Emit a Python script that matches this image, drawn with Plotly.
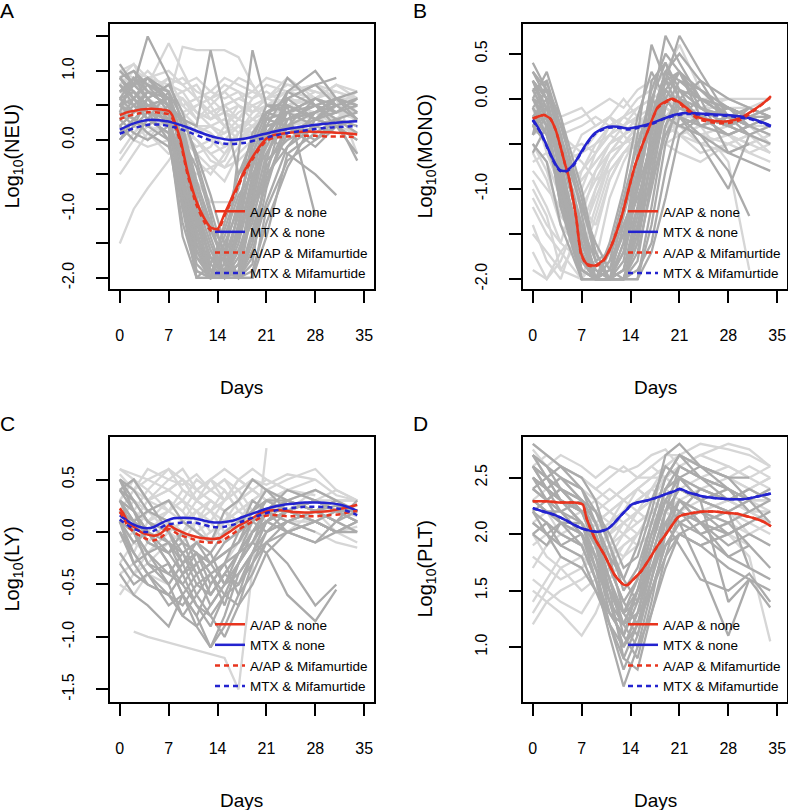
import plotly.graph_objects as go

W, H = 788, 810
N = None

# ---------------- shared axis data ----------------
DAY_GRID = [0, 2, 4, 7, 9, 11, 13, 15, 17, 19, 21, 24, 28, 31, 34]
X_TICKS = [0, 7, 14, 21, 28, 35]
X_TICK_LABELS = ["0", "7", "14", "21", "28", "35"]
GROUPS = ["A/AP & none", "MTX & none", "A/AP & Mifamurtide", "MTX & Mifamurtide"]

# ---------------- Panel A: NEU ----------------
NEU_MTX_PATIENTS = [
    [0.9, 0.8, 1.0, 0.7, 0.6, 0.4, 0.3, 0.5, 0.6, 0.7, 0.6, 0.5, 0.7, 0.6, 0.5],
    [0.5, 0.6, 0.4, 0.5, 0.3, 0.2, 0.0, -0.2, 0.1, 0.3, 0.4, 0.5, 0.4, 0.6, 0.6],
    [0.2, 0.4, 0.6, 0.4, 0.2, 0.0, -0.3, -0.4, -0.1, 0.2, 0.3, 0.2, 0.4, 0.3, 0.5],
    [0.7, 0.9, 0.8, 1.4, 1.0, 0.6, 0.4, 0.2, 0.5, 0.4, 0.6, 0.8, 0.7, N, N],
    [1.0, 0.9, 0.7, 0.6, 1.35, 1.3, 1.3, 1.3, 1.2, 0.8, 0.5, 0.5, 0.6, 0.7, 0.6],
    [-1.5, -1.0, -0.7, -0.3, 0.0, -0.2, -0.4, -0.3, 0.1, 0.2, 0.3, 0.2, 0.4, 0.2, N],
    [0.0, 0.2, 0.1, -0.2, -0.2, -0.6, -0.9, -0.9, -0.9, -0.9, -0.1, 0.2, 0.3, 0.4, 0.3],
    [0.6, 0.5, 0.7, 0.6, 0.4, 0.5, 0.6, 0.4, 0.3, 0.5, 0.6, 0.7, 0.8, 0.7, 0.6],
    [0.3, 0.1, 0.3, 0.2, 0.1, -0.1, 0.0, 0.1, 0.2, 0.0, 0.2, 0.3, 0.5, 0.4, 0.4],
    [0.8, 1.0, 0.9, 0.6, 0.7, 0.8, 0.5, 0.7, 0.9, 0.8, 0.5, 0.4, 0.3, 0.5, 0.7],
    [-0.5, -0.2, 0.1, 0.3, 0.2, 0.0, -0.2, -0.4, -0.3, -0.1, 0.1, 0.4, 0.3, 0.2, 0.1],
    [0.4, 0.7, 0.5, 0.3, 0.4, 0.2, 0.2, 0.3, 0.1, 0.4, 0.5, 0.4, 0.6, 0.5, 0.3],
    [1.0, 0.8, 0.9, 0.8, 0.7, 0.4, 0.2, 0.1, 0.3, 0.6, 0.8, 0.7, 0.6, 0.8, 0.7],
    [0.1, 0.3, 0.0, 0.4, 0.6, 0.3, 0.5, 0.2, 0.0, 0.1, 0.4, 0.6, 0.5, 0.3, 0.2],
    [0.6, 0.3, 0.2, 0.1, -0.3, -0.5, -0.4, -0.6, -0.2, 0.0, 0.3, 0.5, N, N, N],
    [0.9, 1.1, 0.7, 0.9, 0.8, 0.9, 0.7, 0.6, 0.7, 0.4, 0.6, 0.9, 0.6, 0.5, 0.4],
    [-0.3, 0.0, -0.1, 0.0, -0.2, -0.3, -0.5, -0.2, 0.0, 0.2, 0.0, 0.3, 0.2, 0.5, 0.4],
    [0.5, 0.4, 0.6, 0.9, 0.5, 0.6, 0.3, 0.4, 0.5, 0.3, 0.2, 0.3, 0.4, 0.6, -0.2],
    [0.7, 0.6, 0.8, 0.7, 0.5, 0.6, 0.4, 0.5, 0.6, 0.5, 0.4, 0.6, 0.5, 0.6, 0.5],
    [0.4, 0.5, 0.3, 0.2, 0.3, 0.1, 0.2, 0.0, 0.2, 0.3, 0.2, 0.3, 0.5, 0.4, 0.3],
    [0.8, 0.7, 0.6, 0.8, 0.9, 0.7, 0.6, 0.8, 0.7, 0.6, 0.7, 0.5, 0.6, 0.8, 0.6],
    [0.2, 0.0, 0.2, 0.4, 0.1, -0.2, -0.1, 0.2, 0.4, 0.5, 0.3, 0.4, 0.2, 0.3, 0.4],
    [0.5, 0.8, 0.7, 0.5, 0.6, 0.4, 0.3, 0.4, 0.2, 0.1, 0.3, 0.2, 0.3, 0.4, 0.5],
    [0.9, 0.7, 0.5, 0.4, 0.3, 0.5, 0.6, 0.7, 0.5, 0.4, 0.5, 0.7, 0.8, 0.6, 0.4],
    [-0.2, 0.1, 0.3, 0.1, 0.0, 0.2, 0.1, -0.1, 0.0, 0.2, 0.1, 0.0, 0.3, 0.2, 0.3],
    [0.6, 0.4, 0.5, 0.3, 0.1, 0.0, -0.2, -0.1, 0.1, 0.3, 0.5, 0.6, 0.5, 0.3, 0.6],
    [1.0, 1.1, 0.9, 1.0, 0.8, 0.6, 0.7, 0.9, 0.8, 0.7, 0.9, 0.8, 0.7, 0.6, N],
    [0.3, 0.5, 0.4, 0.6, 0.5, 0.3, 0.4, 0.5, 0.3, 0.2, 0.4, 0.3, 0.1, 0.2, 0.0],
]
NEU_AAP_PATIENTS = [
    [0.6, 0.7, 0.5, 0.4, -0.6, -1.6, -2.0, -2.0, -1.2, -0.3, 0.2, 0.3, 0.4, N, N],
    [0.9, 1.0, 0.8, 0.6, -0.3, -1.2, -1.9, -2.0, -1.8, -0.8, 0.1, 0.5, 0.3, 0.4, N],
    [0.3, 0.5, 0.4, 0.2, -0.8, -1.8, -2.0, -1.6, -0.9, -0.2, 0.3, 0.2, 0.1, 0.3, 0.2],
    [0.5, 0.8, 1.5, 0.9, 0.2, -0.9, -1.5, -2.0, -2.0, -1.0, -0.2, 0.4, 0.6, N, N],
    [0.1, 0.3, 0.2, 0.5, -0.2, -1.1, -1.7, -1.9, -1.4, -0.6, 0.0, 0.2, -0.1, 0.2, -0.2],
    [0.8, 0.6, 0.9, 0.7, 0.0, -0.7, -1.4, -2.0, -2.0, -1.5, -0.5, 0.6, 0.8, 0.5, N],
    [0.4, 0.2, 0.6, 0.3, -1.0, -2.0, -2.0, -2.0, -1.0, -0.4, 0.3, 0.9, 0.5, 0.3, 0.4],
    [0.7, 0.9, 0.7, 0.5, 0.3, 0.2, 1.3, 0.4, -0.5, -0.2, 0.3, 0.4, 0.2, N, N],
    [0.2, 0.0, 0.3, 0.1, -0.5, -1.4, -2.0, -2.0, -2.0, -1.3, -0.6, 0.1, 0.3, 0.2, 0.0],
    [1.0, 0.8, 0.6, 0.8, 0.4, -0.3, -1.0, -1.7, -2.0, -1.6, -0.9, -0.1, 0.4, 0.6, 0.5],
    [0.6, 0.4, 0.7, 0.5, -0.1, -1.3, -2.0, -1.8, -0.2, 1.3, 0.5, 0.5, 0.3, 0.2, N],
    [0.3, 0.6, 0.4, 0.3, -0.4, -1.0, -1.6, -2.0, -1.7, -0.9, 0.0, 0.6, 0.8, 0.9, N],
    [0.5, 0.3, 0.5, 0.6, 0.0, -0.8, -1.9, -2.0, -1.4, -0.5, -0.1, 0.5, -1.1, N, N],
    [0.9, 0.6, 0.8, 0.4, -0.7, -1.7, -2.0, -2.0, -1.5, -0.7, 0.2, 0.7, 0.5, 0.6, 0.7],
    [0.0, 0.2, 0.4, 0.3, 0.1, -0.6, -1.2, -1.6, -2.0, -2.0, -1.0, -0.3, 0.0, 0.3, -0.3],
    [0.7, 0.8, 0.9, 0.6, -0.2, -1.5, -2.0, -1.9, -1.0, 0.0, 0.5, 0.4, 0.6, 0.4, 0.6],
    [0.4, 0.9, 0.6, 0.2, -0.9, -2.0, -1.8, -1.3, -0.7, 0.1, 0.4, 0.3, 0.5, N, N],
    [0.8, 0.5, 0.3, 0.7, 0.3, -0.2, -0.8, -1.5, -2.0, -1.8, -0.3, 0.7, 1.0, 0.6, 0.3],
    [N, 1.0, 0.7, 0.5, 0.0, -1.0, -1.8, -2.0, -1.6, -1.0, -0.4, 0.2, 0.4, 0.5, 0.6],
    [0.6, 0.7, 0.4, 0.0, -1.2, -1.9, -2.0, -1.2, -0.5, 0.0, 0.1, -0.2, -0.5, -0.8, N],
    [0.5, 0.6, 0.3, 0.1, -1.4, -2.0, -2.0, -2.0, -1.9, -0.6, 0.4, 0.5, 0.3, 0.4, N],
    [0.2, 0.4, 0.5, 0.6, -0.1, -0.9, -1.3, -1.8, -2.0, -2.0, -1.4, -0.2, 0.1, N, N],
    [0.7, 0.8, 0.6, 0.2, -0.5, -1.7, -1.9, -1.7, -1.1, -0.4, 0.2, 0.3, 0.5, 0.4, 0.5],
    [0.4, 0.3, 0.2, 0.0, -1.0, -1.5, -2.0, -2.0, -1.6, -1.2, -0.3, 0.0, 0.2, 0.1, N],
    [0.9, 0.7, 0.5, 0.4, 0.0, -0.4, -1.1, -2.0, -2.0, -1.7, -0.7, 0.3, 0.4, 0.6, 0.5],
    [0.6, 0.9, 0.8, 0.7, -0.4, -1.6, -2.0, -2.0, -2.0, -0.9, 0.1, 0.2, 0.0, 0.2, 0.3],
    [0.3, 0.1, 0.0, 0.2, -0.6, -1.4, -1.8, -1.4, -0.8, -0.5, -0.2, 0.3, 0.4, N, N],
    [1.1, 0.8, 0.9, 0.5, -0.2, -1.0, -1.6, -1.9, -2.0, -1.4, -0.6, 0.2, 0.6, 0.5, 0.3],
    [0.5, 0.4, 0.6, 0.3, -0.9, -1.9, -2.0, -1.5, -1.0, -0.1, 0.4, 0.6, 0.3, 0.5, N],
    [0.0, 0.3, 0.1, -0.1, -0.7, -1.2, -1.7, -2.0, -1.8, -1.1, -0.5, -0.1, 0.2, 0.3, 0.1],
    [0.8, 0.6, 0.4, 0.3, -0.3, -1.1, -2.0, -2.0, -1.3, -0.3, 0.1, 0.4, 0.5, 0.2, N],
    [0.6, 0.5, 0.7, 0.6, 0.2, -0.6, -1.3, -1.7, -2.0, -1.9, -1.2, -0.4, 0.3, 0.6, 0.4],
]
NEU_AAP_DAYS = [0, 1, 2, 3, 4, 5, 6, 7, 7.5, 8, 8.7, 9.7, 10.9, 12, 13, 14, 15, 16, 17,
                18, 19, 20, 21, 22, 24, 26, 28, 30, 32, 34]
NEU_AAP_NONE = [0.36, 0.40, 0.42, 0.44, 0.45, 0.45, 0.44, 0.42, 0.36, 0.22, 0.0, -0.46,
                -0.87, -1.12, -1.27, -1.29, -1.07, -0.85, -0.63, -0.42, -0.25, -0.10,
                0.02, 0.07, 0.10, 0.12, 0.12, 0.11, 0.10, 0.08]
NEU_AAP_MIF = [0.30, 0.34, 0.37, 0.39, 0.40, 0.40, 0.39, 0.37, 0.32, 0.18, -0.04, -0.50,
               -0.92, -1.17, -1.31, -1.33, -1.10, -0.88, -0.66, -0.45, -0.28, -0.13,
               -0.01, 0.03, 0.05, 0.06, 0.06, 0.05, 0.05, 0.04]
NEU_MTX_DAYS = [0, 2, 4, 6, 8, 10, 12, 14, 16, 18, 20, 22, 24, 26, 28, 30, 32, 34]
NEU_MTX_NONE = [0.15, 0.24, 0.29, 0.28, 0.24, 0.17, 0.09, 0.03, 0.0, 0.02, 0.07, 0.12,
                0.16, 0.19, 0.22, 0.24, 0.26, 0.27]
NEU_MTX_MIF = [0.09, 0.17, 0.22, 0.22, 0.18, 0.11, 0.03, -0.04, -0.06, -0.04, 0.01, 0.06,
               0.10, 0.13, 0.16, 0.18, 0.19, 0.20]

# ---------------- Panel B: MONO ----------------
MONO_MTX_PATIENTS = [
    [-0.3, -0.5, -0.9, -0.4, -0.3, -0.2, -0.4, -0.3, -0.2, -0.1, -0.2, -0.1, -0.2, -0.3, -0.2],
    [-0.9, -1.2, -1.6, -0.8, -0.5, -0.3, -0.2, -0.3, -0.1, 0.0, -0.1, -0.2, -0.3, -0.2, -0.1],
    [0.1, -0.3, -0.6, -0.5, -0.6, -0.4, -0.3, -0.4, -0.5, -0.3, -0.2, -0.3, -0.4, -0.5, -0.4],
    [-1.4, -1.8, -2.0, -1.3, -0.8, -0.5, -0.4, -0.2, -0.3, -0.2, 0.0, -0.1, -0.2, -0.3, -0.3],
    [-0.5, -0.7, -1.1, -1.0, -0.6, -0.4, -0.5, -0.3, -0.1, 0.1, -0.1, -0.3, -0.2, -0.4, -0.6],
    [0.3, 0.1, -0.3, -0.2, -0.1, 0.0, -0.1, 0.1, 0.2, 0.0, 0.1, -0.1, 0.0, -0.1, -0.2],
    [-1.0, -1.3, -1.9, -2.0, -1.5, -0.9, -0.6, -0.5, -0.3, -0.2, -0.3, -0.4, -0.3, -0.2, -0.3],
    [-0.2, -0.4, -0.5, -0.7, -0.9, -0.6, -0.4, -0.3, -0.4, -0.2, -0.3, -0.5, -0.6, -0.5, -0.4],
    [-0.6, -0.9, -1.4, -1.7, -1.2, -0.7, -0.5, -0.4, -0.3, -0.4, -0.2, -0.2, -0.1, -0.1, 0.0],
    [0.0, -0.2, -0.4, -0.3, -0.2, -0.3, -0.2, 0.0, 0.1, 0.3, 0.6, 0.1, -0.1, -0.2, -0.1],
    [-1.7, -2.0, -1.8, -1.2, -0.9, -0.8, -0.6, -0.5, -0.7, -0.5, -0.4, -0.6, -0.5, -0.4, -0.5],
    [-0.4, -0.3, -0.7, -0.6, -0.4, -0.2, -0.3, -0.1, 0.0, -0.1, -0.2, -0.3, -0.7, -1.9, N],
    [-0.8, -1.0, -1.2, -0.9, -0.7, -0.5, -0.4, -0.6, -0.4, -0.3, -0.4, -0.5, -0.4, -0.6, -0.5],
    [0.2, 0.0, -0.2, -0.1, -0.3, -0.2, 0.0, -0.2, -0.3, -0.1, -0.2, 0.0, 0.0, 0.0, 0.0],
    [-1.2, -1.5, -1.7, -2.0, -1.8, -1.1, -0.7, -0.4, -0.3, -0.5, -0.6, -0.7, -0.5, -0.6, -0.7],
    [-0.1, -0.6, -1.0, -0.8, -0.6, -0.3, -0.3, -0.2, -0.4, -0.2, -0.4, -0.3, -0.2, -0.2, -0.3],
    [-0.5, -0.8, -1.3, -1.6, -1.0, -0.6, -0.4, -0.3, -0.2, -0.1, -0.2, -0.3, -0.2, -0.3, -0.4],
    [-1.5, -1.7, -1.9, -1.5, -1.1, -0.7, -0.5, -0.4, -0.5, -0.3, -0.3, -0.4, -0.5, -0.4, -0.3],
    [-0.2, -0.3, -0.6, -0.9, -0.7, -0.5, -0.3, -0.2, -0.1, -0.2, -0.1, -0.2, -0.1, -0.2, -0.2],
    [0.0, -0.4, -0.8, -1.2, -1.4, -0.9, -0.6, -0.5, -0.4, -0.3, -0.4, -0.3, -0.4, -0.5, -0.6],
    [-1.1, -1.4, -1.6, -1.8, -1.3, -0.8, -0.6, -0.4, -0.3, -0.2, -0.1, -0.2, -0.3, -0.2, -0.1],
    [-0.7, -0.6, -0.9, -1.1, -0.8, -0.6, -0.5, -0.3, -0.2, -0.4, -0.3, -0.2, -0.4, -0.3, -0.5],
    [0.1, -0.1, -0.4, -0.6, -0.5, -0.4, -0.2, -0.1, 0.0, 0.1, 0.0, -0.1, -0.1, -0.2, -0.1],
    [-1.9, -2.0, -1.7, -1.4, -1.0, -0.7, -0.5, -0.4, -0.3, -0.2, -0.3, -0.4, -0.3, -0.2, N],
]
MONO_AAP_PATIENTS = [
    [0.4, 0.1, -0.5, -1.4, -2.0, -2.0, -2.0, -1.6, -0.6, 0.1, -0.1, -0.2, -0.3, N, N],
    [-0.2, -0.1, -0.8, -1.9, -2.0, -2.0, -1.7, -0.9, 0.2, 0.4, 0.0, -0.3, -0.2, -0.4, N],
    [0.0, -0.3, -1.0, -2.0, -2.0, -1.8, -1.2, -0.4, 0.6, 0.2, -0.1, -0.2, -0.1, -0.3, -0.2],
    [-0.4, 0.2, -0.4, -1.6, -2.0, -2.0, -2.0, -2.0, -1.2, -0.3, 0.1, 0.0, -0.2, N, N],
    [0.2, 0.0, -0.7, -1.8, -2.0, -1.9, -1.5, -0.8, -0.1, 0.7, 0.4, 0.0, -0.1, -0.2, -0.3],
    [-0.6, -0.3, -1.2, -2.0, -2.0, -2.0, -1.4, -1.0, -0.5, 0.0, -0.2, -0.4, -0.6, -0.5, N],
    [0.1, 0.2, -0.3, -1.1, -1.8, -2.0, -2.0, -1.5, -0.3, 0.3, 0.5, 0.2, -0.3, -0.4, -0.5],
    [-0.1, -0.4, -0.9, -1.7, -2.0, -1.6, -1.0, -0.2, 0.3, 0.0, -0.2, -0.5, -1.0, -0.4, N],
    [0.3, 0.0, -0.6, -1.5, -1.9, -2.0, -2.0, -1.8, -0.9, -0.1, 0.2, 0.1, -0.1, -0.2, N],
    [-0.3, -0.2, -1.1, -2.0, -2.0, -2.0, -1.6, -0.6, 0.1, 0.5, 0.3, -0.1, -0.3, -0.2, -0.1],
    [0.0, 0.3, -0.2, -1.3, -2.0, -2.0, -1.9, -1.2, -0.4, 0.2, 0.7, 0.3, -0.2, -0.3, N],
    [-0.5, -0.7, -1.4, -2.0, -2.0, -1.7, -1.1, -0.5, 0.0, -0.2, -0.3, -0.4, -0.8, -1.3, N],
    [0.2, -0.1, -0.5, -1.2, -1.7, -2.0, -2.0, -2.0, -1.4, -0.5, 0.0, 0.2, 0.0, -0.1, -0.2],
    [-0.2, 0.0, -0.9, -1.8, -2.0, -2.0, -1.8, -1.0, 0.0, 0.4, 0.1, -0.3, -0.4, -0.3, N],
    [0.1, -0.2, -0.8, -1.6, -2.0, -1.9, -1.3, -0.7, -0.2, 0.3, 0.2, 0.0, -0.6, -0.7, -0.8],
    [-0.3, -0.5, -1.0, -1.9, -2.0, -2.0, -2.0, -1.4, -0.7, 0.1, -0.1, -0.2, -0.1, N, N],
    [0.0, -0.2, -0.7, -1.7, -2.0, -2.0, -2.0, -1.7, -1.0, -0.3, 0.0, -0.1, -0.2, -0.3, N],
    [-0.3, -0.1, -0.6, -1.5, -1.9, -2.0, -1.9, -1.3, -0.5, 0.1, 0.3, -0.2, -0.3, N, N],
    [0.2, 0.0, -0.9, -2.0, -2.0, -2.0, -2.0, -1.9, -1.6, -0.8, -0.2, 0.0, -0.1, -0.2, -0.3],
    [-0.1, -0.3, -1.2, -1.9, -2.0, -1.8, -1.5, -1.1, -0.6, -0.2, -0.3, -0.2, -0.4, -0.3, N],
    [0.1, 0.1, -0.4, -1.2, -1.6, -1.9, -2.0, -2.0, -1.7, -1.1, -0.4, -0.2, -0.1, -0.2, -0.2],
    [-0.4, -0.2, -0.8, -1.6, -2.0, -2.0, -1.6, -0.8, -0.3, 0.2, 0.1, -0.1, -0.3, -0.2, N],
    [0.3, 0.1, -0.2, -1.0, -1.7, -2.0, -2.0, -1.6, -0.8, 0.0, 0.3, 0.1, -0.2, -0.3, -0.4],
    [-0.2, -0.4, -1.0, -1.8, -2.0, -2.0, -1.9, -1.4, -0.9, -0.4, -0.1, -0.2, -0.3, -0.1, N],
    [0.0, -0.1, -0.6, -1.4, -1.8, -1.7, -1.4, -1.0, -0.2, 0.3, 0.0, -0.2, -0.3, -0.4, -0.3],
    [-0.1, 0.1, -0.5, -1.5, -2.0, -2.0, -2.0, -1.5, -0.6, 0.0, -0.2, -0.3, -0.2, N, N],
    [0.2, -0.2, -1.1, -1.9, -2.0, -2.0, -1.7, -1.2, -0.4, 0.2, 0.3, 0.0, -0.2, -0.1, -0.2],
]
MONO_AAP_DAYS = [0, 1, 1.6, 2.5, 3.3, 4.1, 4.6, 5.1, 6.2, 6.9, 7.7, 8.9, 10.1, 11.2, 12.7,
                 14.6, 16.5, 17.9, 19.0, 20.0, 21.0, 22.0, 23.6, 25.5, 27.9, 29.8, 31.7,
                 33.0, 34.1]
MONO_AAP_NONE = [-0.22, -0.19, -0.18, -0.22, -0.35, -0.57, -0.72, -0.85, -1.31, -1.71,
                 -1.83, -1.85, -1.79, -1.64, -1.31, -0.75, -0.35, -0.09, -0.03, 0.0, -0.04,
                 -0.10, -0.20, -0.24, -0.25, -0.21, -0.12, -0.05, 0.03]
MONO_AAP_MIF = [-0.22, -0.19, -0.18, -0.22, -0.35, -0.57, -0.72, -0.85, -1.31, -1.72,
                -1.84, -1.86, -1.80, -1.64, -1.31, -0.75, -0.35, -0.10, -0.04, -0.01,
                -0.05, -0.12, -0.22, -0.26, -0.27, -0.23, -0.13, -0.05, 0.02]
MONO_MTX_DAYS = [0, 0.6, 1.2, 2.0, 2.7, 3.3, 3.9, 4.6, 5.3, 6.0, 6.7, 7.4, 8.2, 8.9, 9.8,
                 10.8, 12.2, 13.6, 15.1, 17.0, 18.9, 20.2, 21.4, 23.3, 25.5, 27.9, 30.8,
                 32.5, 34.1]
MONO_MTX_NONE = [-0.23, -0.30, -0.38, -0.52, -0.64, -0.73, -0.79, -0.80, -0.77, -0.71,
                 -0.62, -0.53, -0.44, -0.38, -0.34, -0.31, -0.31, -0.33, -0.31, -0.27,
                 -0.215, -0.18, -0.16, -0.16, -0.17, -0.18, -0.21, -0.25, -0.30]
MONO_MTX_MIF = [-0.24, -0.31, -0.39, -0.53, -0.65, -0.74, -0.80, -0.81, -0.78, -0.72,
                -0.63, -0.54, -0.45, -0.39, -0.35, -0.32, -0.32, -0.34, -0.32, -0.28,
                -0.22, -0.19, -0.17, -0.17, -0.18, -0.19, -0.22, -0.26, -0.31]

# ---------------- Panel C: LY ----------------
LY_MTX_PATIENTS = [
    [0.5, 0.4, 0.5, 0.4, 0.5, 0.3, 0.4, 0.5, 0.3, 0.4, 0.3, 0.4, 0.3, 0.3, 0.2],
    [0.2, 0.1, 0.3, 0.2, 0.1, 0.2, 0.0, 0.1, 0.2, 0.3, 0.2, 0.3, 0.2, 0.3, 0.3],
    [-0.3, -0.1, 0.0, 0.2, 0.3, 0.2, 0.1, 0.3, 0.4, 0.2, 0.3, 0.2, 0.4, 0.3, N],
    [0.6, 0.5, 0.3, 0.5, 0.6, 0.4, 0.5, 0.4, 0.2, 0.3, 0.4, 0.5, 0.6, 0.4, 0.3],
    [-0.6, -0.4, -0.3, -0.1, 0.0, 0.1, -0.1, 0.0, 0.1, 0.2, 0.1, 0.2, 0.3, 0.2, 0.2],
    [0.4, 0.3, 0.2, 0.3, 0.2, 0.4, 0.3, 0.2, 0.3, 0.1, 0.2, 0.1, 0.2, 0.0, -0.1],
    [N, -0.95, -1.0, N, N, N, N, -1.2, -1.5, N, 0.8, N, N, N, N],
    [0.1, 0.3, 0.2, 0.0, 0.1, 0.3, 0.2, 0.4, 0.2, 0.3, 0.4, 0.3, 0.2, 0.1, 0.0],
    [0.5, 0.2, 0.4, 0.6, 0.4, 0.3, 0.5, 0.3, 0.5, 0.6, 0.5, 0.4, 0.5, N, N],
    [-0.2, -0.4, -0.2, 0.0, -0.1, 0.1, 0.2, 0.0, 0.1, 0.0, 0.2, 0.1, 0.0, -0.1, -0.15],
    [0.3, 0.5, 0.4, 0.2, 0.3, 0.1, 0.3, 0.2, 0.0, 0.2, 0.3, 0.2, 0.3, 0.4, 0.3],
    [0.0, -0.2, 0.1, 0.3, 0.2, 0.0, 0.1, -0.1, 0.0, 0.2, 0.1, 0.0, 0.1, 0.2, 0.1],
    [0.55, 0.4, 0.6, 0.5, 0.45, 0.55, 0.4, 0.5, 0.4, 0.5, 0.45, 0.55, 0.5, 0.35, 0.3],
    [-0.5, -0.6, -0.4, -0.5, -0.3, -0.2, -0.4, -0.3, -0.1, 0.0, 0.1, 0.0, 0.2, 0.1, N],
    [0.2, 0.4, 0.3, 0.4, 0.5, 0.3, 0.2, 0.3, 0.5, 0.4, 0.3, 0.4, 0.3, 0.2, 0.25],
    [0.4, 0.5, 0.3, 0.4, 0.3, 0.5, 0.4, 0.3, 0.4, 0.5, 0.4, 0.3, 0.4, 0.3, 0.3],
    [-0.4, -0.3, -0.1, 0.1, 0.0, -0.1, 0.0, 0.1, 0.2, 0.1, 0.2, 0.3, 0.2, 0.1, 0.2],
    [0.3, 0.2, 0.1, 0.2, 0.4, 0.3, 0.2, 0.1, 0.3, 0.4, 0.3, 0.2, 0.3, 0.2, 0.1],
    [0.6, 0.55, 0.5, 0.6, 0.5, 0.4, 0.5, 0.6, 0.5, 0.4, 0.5, 0.4, 0.35, N, N],
    [-0.1, 0.0, 0.2, 0.1, 0.0, 0.2, 0.3, 0.2, 0.1, 0.3, 0.2, 0.3, 0.2, 0.2, 0.15],
    [0.1, -0.1, -0.2, 0.0, 0.1, 0.0, -0.1, 0.1, 0.0, 0.1, 0.2, 0.1, 0.1, 0.0, 0.05],
]
LY_AAP_PATIENTS = [
    [0.4, 0.2, 0.0, -0.3, -0.5, -0.7, -0.9, -0.6, -0.3, 0.0, 0.2, 0.3, 0.2, 0.3, N],
    [0.2, 0.0, -0.2, -0.1, -0.4, -0.3, -0.6, -0.4, -0.5, -0.2, 0.1, 0.2, 0.1, 0.0, 0.1],
    [0.5, 0.3, 0.1, 0.0, -0.2, -0.5, -0.4, -0.7, -0.3, -0.1, 0.2, 0.4, 0.3, 0.2, N],
    [-0.2, -0.4, -0.5, -0.6, -0.8, -0.9, -1.1, -0.8, -0.4, -0.2, 0.0, 0.1, 0.0, N, N],
    [0.3, 0.1, 0.2, 0.1, -0.1, -0.2, -0.3, -0.2, -0.1, 0.1, 0.3, 0.2, 0.3, 0.2, 0.1],
    [0.1, -0.2, -0.4, -0.7, -0.6, -0.8, -0.5, -0.3, -0.6, -0.4, -0.1, -0.3, -0.7, -0.5, N],
    [0.4, 0.5, 0.3, 0.0, -0.3, -0.1, -0.2, -0.5, -0.2, 0.0, 0.1, 0.3, 0.4, 0.3, 0.2],
    [0.0, -0.3, -0.2, -0.5, -0.3, -0.6, -0.8, -1.0, -0.7, -0.5, -0.2, 0.0, -0.1, 0.0, 0.0],
    [0.3, 0.2, -0.1, -0.2, 0.0, -0.3, -0.2, 0.0, 0.1, 0.2, 0.4, 0.3, 0.2, 0.1, 0.3],
    [0.5, 0.4, 0.2, 0.3, 0.1, 0.0, -0.1, 0.2, 0.3, 0.5, 0.4, 0.2, 0.3, N, N],
    [-0.4, -0.6, -0.7, -0.9, -0.6, -0.4, -0.7, -0.5, -0.3, -0.1, -0.2, -0.6, -0.85, -0.55, N],
    [0.2, 0.0, -0.3, -0.4, -0.2, -0.4, -0.3, -0.1, 0.0, 0.3, 0.2, 0.1, 0.2, 0.25, 0.2],
    [0.1, -0.1, 0.0, -0.2, -0.4, -0.2, -0.5, -0.3, -0.2, 0.1, 0.0, 0.2, 0.1, 0.0, N],
    [0.3, 0.1, 0.0, -0.3, -0.6, -0.8, -1.1, -0.9, -0.6, -0.2, 0.1, 0.2, 0.3, 0.2, 0.2],
    [0.3, 0.0, -0.2, -0.4, -0.5, -0.3, -0.6, -0.4, -0.2, 0.0, 0.1, 0.2, 0.1, 0.2, 0.1],
    [0.1, -0.3, -0.5, -0.6, -0.4, -0.7, -0.8, -0.6, -0.5, -0.3, 0.0, 0.1, 0.2, 0.1, N],
    [0.4, 0.3, 0.1, -0.1, -0.3, -0.2, -0.4, -0.3, 0.0, 0.1, 0.2, 0.2, 0.3, 0.2, 0.2],
    [0.0, -0.2, -0.4, -0.3, -0.6, -0.9, -0.7, -0.5, -0.4, -0.2, -0.1, 0.0, 0.1, 0.0, N],
    [0.2, 0.1, -0.1, -0.2, -0.1, -0.4, -0.3, -0.5, -0.3, 0.0, 0.2, 0.0, -0.1, 0.1, 0.0],
    [-0.3, -0.5, -0.4, -0.6, -0.7, -0.5, -0.6, -0.4, -0.2, -0.1, 0.1, 0.0, 0.1, 0.0, 0.1],
    [0.5, 0.2, 0.0, -0.1, -0.2, -0.1, -0.3, -0.2, -0.1, 0.2, 0.3, 0.3, 0.2, 0.3, N],
    [0.1, 0.0, -0.3, -0.5, -0.8, -0.6, -0.4, -0.6, -0.7, -0.3, -0.1, 0.1, 0.2, 0.1, 0.2],
]
LY_AAP_DAYS = [0, 0.5, 1.1, 2, 3, 4, 4.9, 5.7, 6.3, 7.0, 7.8, 8.7, 9.6, 10.6, 11.5, 12.5,
               13.3, 14.2, 15, 15.9, 17, 18.2, 19.4, 20.6, 21.5, 22.5, 24, 25, 26.5, 28.2,
               30, 31.6, 33, 34]
LY_AAP_NONE = [0.225, 0.18, 0.10, 0.05, 0.0, -0.025, -0.035, -0.02, 0.01, 0.065, 0.035,
               0.005, -0.02, -0.04, -0.055, -0.063, -0.066, -0.06, -0.03, 0.01, 0.06, 0.10,
               0.15, 0.19, 0.205, 0.21, 0.20, 0.19, 0.185, 0.19, 0.20, 0.22, 0.24, 0.26]
LY_AAP_MIF = [0.19, 0.14, 0.06, 0.0, -0.04, -0.07, -0.08, -0.06, -0.03, 0.03, 0.0, -0.03,
              -0.05, -0.07, -0.09, -0.10, -0.10, -0.10, -0.07, -0.03, 0.02, 0.07, 0.11,
              0.15, 0.16, 0.16, 0.15, 0.15, 0.15, 0.15, 0.16, 0.17, 0.19, 0.20]
LY_MTX_DAYS = [0, 1, 2, 3, 3.9, 4.8, 5.8, 6.8, 7.7, 9, 10.6, 12, 13, 14, 15, 16.3, 17.5,
               19.2, 20.5, 22, 23.5, 24.9, 26.5, 28.2, 30, 31.6, 33, 34]
LY_MTX_NONE = [0.16, 0.11, 0.07, 0.045, 0.035, 0.045, 0.08, 0.11, 0.13, 0.135, 0.13,
               0.11, 0.095, 0.09, 0.095, 0.11, 0.14, 0.18, 0.21, 0.24, 0.26, 0.27, 0.28,
               0.28, 0.275, 0.26, 0.23, 0.20]
LY_MTX_MIF = [0.12, 0.07, 0.03, 0.005, 0.0, 0.01, 0.04, 0.07, 0.08, 0.09, 0.09, 0.07,
              0.05, 0.045, 0.05, 0.07, 0.10, 0.14, 0.17, 0.20, 0.22, 0.23, 0.24, 0.24,
              0.235, 0.22, 0.19, 0.16]

# ---------------- Panel D: PLT ----------------
PLT_MTX_PATIENTS = [
    [2.6, 2.5, 2.4, 2.3, 2.2, 2.3, 2.4, 2.5, 2.5, 2.6, 2.5, 2.4, 2.5, 2.4, 2.3],
    [2.2, 2.1, 2.0, 1.9, 2.0, 2.1, 2.2, 2.3, 2.4, 2.3, 2.4, 2.3, 2.2, 2.3, 2.4],
    [1.8, 1.7, 1.6, 1.7, 1.8, 2.0, 2.1, 2.2, 2.3, 2.2, 2.1, 2.2, 2.3, 2.2, N],
    [2.8, 2.7, 2.6, 2.5, 2.4, 2.5, 2.6, 2.5, 2.6, 2.7, 2.7, 2.8, 2.75, 2.7, 2.6],
    [1.3, 1.5, 1.7, 1.8, 2.0, 2.1, 2.2, 2.1, 2.2, 2.3, 2.2, 2.1, 2.2, 2.1, 2.0],
    [2.4, 2.3, 2.2, 2.0, 1.9, 2.0, 2.2, 2.3, 2.4, 2.5, 2.4, 2.5, 2.4, 2.3, 2.3],
    [2.0, 1.8, 1.7, 1.5, 1.6, 1.8, 1.9, 2.0, 2.1, 2.0, 2.2, 2.1, 2.0, 1.8, 1.05],
    [2.7, 2.6, 2.5, 2.4, 2.3, 2.2, 2.3, 2.4, 2.5, 2.5, 2.6, 2.5, 2.6, 2.5, 2.4],
    [1.6, 1.5, 1.4, 1.3, 1.5, 1.7, 1.9, 2.0, 2.1, 2.2, 2.3, 2.2, 2.1, N, N],
    [2.3, 2.4, 2.3, 2.1, 2.0, 2.1, 2.0, 2.2, 2.3, 2.4, 2.3, 2.2, 2.3, 2.2, 2.2],
    [1.9, 2.0, 1.9, 1.8, 1.7, 1.9, 2.1, 2.2, 2.3, 2.2, 2.3, 2.4, 2.3, 2.2, 2.1],
    [2.5, 2.4, 2.5, 2.3, 2.2, 2.1, 2.3, 2.2, 2.4, 2.6, 2.7, 2.6, 2.5, 2.4, 2.5],
    [1.5, 1.4, 1.3, 1.1, 1.3, 1.6, 1.8, 1.9, 2.0, 2.1, 2.0, 1.9, 2.0, 2.1, N],
    [2.1, 2.2, 2.0, 2.1, 1.9, 1.8, 2.0, 2.1, 2.2, 2.1, 2.2, 2.3, 2.2, 2.3, 2.3],
    [2.75, 2.6, 2.7, 2.6, 2.5, 2.6, 2.55, 2.6, 2.7, 2.75, 2.6, 2.7, 2.8, 2.75, 2.6],
    [1.7, 1.9, 2.0, 1.9, 2.1, 2.2, 2.1, 2.0, 2.1, 2.2, 2.1, 2.0, 2.1, 2.0, 1.9],
    [2.5, 2.4, 2.3, 2.2, 2.1, 2.2, 2.3, 2.4, 2.3, 2.4, 2.5, 2.4, 2.3, 2.4, 2.5],
    [1.4, 1.6, 1.8, 1.7, 1.9, 2.0, 2.1, 2.2, 2.1, 2.2, 2.1, 2.2, 2.1, 2.2, 2.1],
    [2.7, 2.5, 2.4, 2.2, 2.1, 2.0, 2.2, 2.4, 2.5, 2.6, 2.7, 2.6, 2.5, 2.6, 2.5],
    [2.0, 2.1, 2.0, 1.9, 1.8, 1.9, 1.8, 2.0, 2.2, 2.1, 2.2, 2.1, 2.2, 2.0, 2.1],
    [2.3, 2.2, 2.1, 2.2, 2.3, 2.4, 2.3, 2.4, 2.3, 2.5, 2.4, 2.3, 2.4, 2.3, 2.2],
    [1.2, 1.4, 1.5, 1.6, 1.7, 1.9, 2.0, 1.9, 2.0, 2.1, 2.2, 2.1, 2.0, 1.9, N],
    [2.6, 2.7, 2.6, 2.5, 2.4, 2.3, 2.4, 2.5, 2.6, 2.5, 2.6, 2.7, 2.6, 2.5, 2.6],
]
PLT_AAP_PATIENTS = [
    [2.5, 2.4, 2.3, 2.2, 1.9, 1.4, 1.0, 1.3, 1.8, 2.2, 2.4, 2.3, 2.2, N, N],
    [2.7, 2.6, 2.5, 2.3, 2.0, 1.6, 1.2, 1.5, 2.0, 2.4, 2.6, 2.5, 2.3, 2.4, N],
    [2.2, 2.1, 2.0, 1.9, 1.6, 1.2, 0.8, 1.1, 1.6, 2.0, 2.2, 2.1, 1.9, 2.0, 1.9],
    [2.4, 2.5, 2.3, 2.1, 1.8, 1.3, 1.1, 1.4, 1.9, 2.3, 2.5, 2.3, 1.4, 1.6, 1.35],
    [2.0, 1.9, 2.1, 2.0, 1.7, 1.5, 1.3, 1.6, 2.1, 2.5, 2.7, 2.5, 2.4, 2.3, N],
    [2.6, 2.5, 2.6, 2.4, 2.1, 1.7, 1.4, 1.2, 1.5, 1.9, 2.1, 2.0, 1.8, 1.7, 1.6],
    [2.3, 2.2, 2.1, 2.0, 1.6, 1.1, 0.65, 1.0, 1.5, 1.9, 2.0, 1.9, 2.0, 2.1, 2.2],
    [2.8, 2.7, 2.6, 2.5, 2.3, 1.9, 1.5, 1.7, 2.1, 2.5, 2.7, 2.6, 2.5, 2.5, N],
    [2.1, 2.0, 1.8, 1.7, 1.5, 1.3, 1.2, 1.5, 1.7, 1.9, 2.1, 1.7, 1.1, 1.6, N],
    [2.5, 2.3, 2.4, 2.2, 2.0, 1.5, 0.9, 0.8, 1.3, 1.8, 2.2, 2.4, 2.3, 2.4, 2.3],
    [2.4, 2.3, 2.2, 2.3, 2.1, 1.8, 1.6, 1.9, 2.3, 2.6, 2.5, 2.6, 2.4, N, N],
    [2.6, 2.4, 2.2, 2.1, 1.9, 1.5, 1.2, 1.3, 1.7, 2.0, 2.3, 2.1, 2.2, 1.7, N],
    [2.2, 2.3, 2.1, 2.1, 1.8, 1.4, 1.0, 1.2, 1.6, 2.1, 1.9, 1.6, 1.5, 1.65, 1.4],
    [2.7, 2.5, 2.4, 2.3, 2.2, 2.0, 1.7, 1.8, 2.2, 2.7, 2.8, 2.6, 2.5, 2.3, N],
    [2.5, 2.4, 2.3, 2.1, 1.7, 1.2, 0.9, 1.2, 1.7, 2.1, 2.3, 2.2, 2.1, 2.2, N],
    [2.3, 2.2, 2.2, 2.0, 1.8, 1.5, 1.3, 1.4, 1.8, 2.2, 2.4, 2.3, 2.2, 2.3, 2.1],
    [2.6, 2.5, 2.3, 2.2, 1.9, 1.6, 1.1, 0.9, 1.4, 2.0, 2.5, 2.4, 2.3, N, N],
    [2.0, 2.1, 1.9, 1.8, 1.5, 1.2, 1.0, 1.3, 1.5, 1.8, 2.0, 1.9, 1.7, 1.6, 1.5],
    [2.4, 2.3, 2.4, 2.2, 2.0, 1.7, 1.4, 1.6, 2.0, 2.3, 2.2, 2.0, 2.1, 1.9, N],
    [2.7, 2.6, 2.4, 2.3, 2.1, 1.8, 1.3, 1.1, 1.6, 2.2, 2.6, 2.5, 2.4, 2.3, 2.4],
    [2.2, 2.0, 2.1, 1.9, 1.6, 1.3, 1.1, 1.5, 1.9, 2.3, 2.1, 2.2, 2.0, 2.1, N],
    [2.5, 2.4, 2.5, 2.4, 2.2, 1.9, 1.6, 1.4, 1.7, 2.0, 2.3, 2.1, 1.8, 1.9, 1.7],
    [2.1, 2.0, 1.9, 2.0, 1.7, 1.4, 1.2, 1.0, 1.3, 1.7, 2.0, 2.1, 2.0, N, N],
    [2.6, 2.4, 2.3, 2.2, 2.0, 1.6, 1.3, 1.5, 1.9, 2.4, 2.5, 2.3, 2.4, 2.2, 2.3],
]
PLT_AAP_DAYS = [0, 2, 4, 6, 6.9, 7.2, 7.7, 8.9, 10.3, 11.7, 12.5, 13.1, 13.6, 14.1, 15.5,
                16.7, 17.9, 19.3, 20.8, 21.5, 23.1, 24.5, 26, 27.5, 29.3, 30.5, 31.7, 33,
                34.1]
PLT_AAP_NONE = [2.29, 2.29, 2.28, 2.28, 2.27, 2.26, 2.14, 1.96, 1.81, 1.64, 1.58, 1.55,
                1.55, 1.58, 1.67, 1.78, 1.90, 2.02, 2.15, 2.17, 2.19, 2.20, 2.20, 2.19,
                2.18, 2.16, 2.14, 2.11, 2.07]
PLT_AAP_MIF = [2.29, 2.29, 2.28, 2.28, 2.27, 2.26, 2.14, 1.96, 1.81, 1.64, 1.58, 1.55,
               1.55, 1.58, 1.67, 1.78, 1.90, 2.02, 2.15, 2.17, 2.19, 2.20, 2.20, 2.19,
               2.18, 2.16, 2.14, 2.11, 2.07]
PLT_MTX_DAYS = [0, 1.5, 3.1, 4.5, 6, 7, 7.9, 8.6, 9.3, 10, 10.8, 11.7, 12.7, 13.5, 14.1,
                15, 16.5, 18, 19.3, 20.3, 21, 21.6, 22.2, 23.4, 24.6, 26, 27.9, 30.3, 32,
                34.1]
PLT_MTX_NONE = [2.23, 2.20, 2.17, 2.13, 2.08, 2.05, 2.035, 2.025, 2.02, 2.03, 2.05, 2.10,
                2.17, 2.22, 2.26, 2.28, 2.30, 2.33, 2.36, 2.38, 2.40, 2.39, 2.37, 2.35,
                2.33, 2.32, 2.31, 2.31, 2.33, 2.36]
PLT_MTX_MIF = [2.23, 2.20, 2.17, 2.13, 2.08, 2.05, 2.035, 2.025, 2.02, 2.03, 2.05, 2.10,
               2.17, 2.22, 2.26, 2.28, 2.30, 2.33, 2.36, 2.38, 2.40, 2.39, 2.37, 2.35,
               2.33, 2.32, 2.31, 2.31, 2.33, 2.36]

# ---------------- styling ----------------
FONT = "Liberation Sans, Arial, Helvetica, sans-serif"
LIGHT = "#D6D6D6"
DARK = "#ABABAB"
RED = "#E8341E"
BLUE = "#2323CF"
DOT = "5px,4px"


def px_x(p):
    return p / W


def px_y(p):
    return 1 - p / H


PANELS = [
    dict(letter="A", var="NEU", box=(110, 374, 24, 289), yrange=[-2.16, 1.68],
         yticks=[-2.0, -1.5, -1.0, -0.5, 0.0, 0.5, 1.0, 1.5],
         ylabels=["-2.0", "", "-1.0", "", "0.0", "", "1.0", ""],
         mtx=NEU_MTX_PATIENTS, aap=NEU_AAP_PATIENTS,
         means=[(NEU_AAP_DAYS, NEU_AAP_NONE), (NEU_MTX_DAYS, NEU_MTX_NONE),
                (NEU_AAP_DAYS, NEU_AAP_MIF), (NEU_MTX_DAYS, NEU_MTX_MIF)]),
    dict(letter="B", var="MONO", box=(523, 787, 24, 289), yrange=[-2.11, 0.83],
         yticks=[-2.0, -1.5, -1.0, -0.5, 0.0, 0.5],
         ylabels=["-2.0", "", "-1.0", "", "0.0", "0.5"],
         mtx=MONO_MTX_PATIENTS, aap=MONO_AAP_PATIENTS,
         means=[(MONO_AAP_DAYS, MONO_AAP_NONE), (MONO_MTX_DAYS, MONO_MTX_NONE),
                (MONO_AAP_DAYS, MONO_AAP_MIF), (MONO_MTX_DAYS, MONO_MTX_MIF)]),
    dict(letter="C", var="LY", box=(110, 374, 437, 702), yrange=[-1.62, 0.905],
         yticks=[-1.5, -1.0, -0.5, 0.0, 0.5],
         ylabels=["-1.5", "-1.0", "-0.5", "0.0", "0.5"],
         mtx=LY_MTX_PATIENTS, aap=LY_AAP_PATIENTS,
         means=[(LY_AAP_DAYS, LY_AAP_NONE), (LY_MTX_DAYS, LY_MTX_NONE),
                (LY_AAP_DAYS, LY_AAP_MIF), (LY_MTX_DAYS, LY_MTX_MIF)]),
    dict(letter="D", var="PLT", box=(523, 787, 437, 702), yrange=[0.513, 2.86],
         yticks=[1.0, 1.5, 2.0, 2.5],
         ylabels=["1.0", "1.5", "2.0", "2.5"],
         mtx=PLT_MTX_PATIENTS, aap=PLT_AAP_PATIENTS,
         means=[(PLT_AAP_DAYS, PLT_AAP_NONE), (PLT_MTX_DAYS, PLT_MTX_NONE),
                (PLT_AAP_DAYS, PLT_AAP_MIF), (PLT_MTX_DAYS, PLT_MTX_MIF)]),
]

MEAN_STYLE = [(RED, "solid"), (BLUE, "solid"), (RED, DOT), (BLUE, DOT)]

fig = go.Figure()
layout = dict(
    width=W, height=H, margin=dict(l=0, r=0, t=0, b=0),
    paper_bgcolor="white", plot_bgcolor="white",
    font=dict(family=FONT, color="black"),
    annotations=[],
)

for i, p in enumerate(PANELS, start=1):
    xa = "x" if i == 1 else f"x{i}"
    ya = "y" if i == 1 else f"y{i}"
    xkey = "xaxis" if i == 1 else f"xaxis{i}"
    ykey = "yaxis" if i == 1 else f"yaxis{i}"
    lkey = "legend" if i == 1 else f"legend{i}"
    x0, x1, y0, y1 = p["box"]

    for series in p["mtx"]:
        fig.add_trace(go.Scatter(x=DAY_GRID, y=series, mode="lines", xaxis=xa, yaxis=ya,
                                 line=dict(color=LIGHT, width=2.3), connectgaps=True,
                                 showlegend=False, hoverinfo="skip"))
    for series in p["aap"]:
        fig.add_trace(go.Scatter(x=DAY_GRID, y=series, mode="lines", xaxis=xa, yaxis=ya,
                                 line=dict(color=DARK, width=2.3), connectgaps=True,
                                 showlegend=False, hoverinfo="skip"))
    for (days, vals), (col, dash), name in zip(p["means"], MEAN_STYLE, GROUPS):
        fig.add_trace(go.Scatter(x=days, y=vals, mode="lines", xaxis=xa, yaxis=ya,
                                 name=name, legend=lkey,
                                 line=dict(color=col, width=2.5, dash=dash,
                                           shape="spline", smoothing=0.6)))

    layout[xkey] = dict(
        domain=[px_x(x0), px_x(x1)], anchor=ya, range=[-1.4, 36.4],
        tickvals=X_TICKS, ticktext=X_TICK_LABELS, ticks="outside", ticklen=12,
        tickwidth=2, tickcolor="black", showline=True, linecolor="black", linewidth=2,
        mirror=True, showgrid=False, zeroline=False,
        tickfont=dict(size=16, family=FONT, color="black"), ticklabelstandoff=19,
    )
    layout[ykey] = dict(
        domain=[px_y(y1), px_y(y0)], anchor=xa, range=p["yrange"],
        tickvals=p["yticks"], ticktext=p["ylabels"], ticks="outside", ticklen=12,
        tickwidth=2, tickcolor="black", showline=True, linecolor="black", linewidth=2,
        mirror=True, showgrid=False, zeroline=False, tickangle=-90,
        tickfont=dict(size=16, family=FONT, color="black"), ticklabelstandoff=16,
    )
    layout[lkey] = dict(
        x=px_x(x0 + 100), y=px_y(y0 + 172), xanchor="left", yanchor="top",
        bgcolor="rgba(0,0,0,0)", borderwidth=0, tracegroupgap=0,
        font=dict(size=13.5, family=FONT, color="black"),
    )
    cx = (x0 + x1) / 2
    cy = (y0 + y1) / 2
    layout["annotations"] += [
        dict(text="Days", x=px_x(cx), y=px_y(y1 + 98), xref="paper", yref="paper",
             showarrow=False, xanchor="center", yanchor="middle",
             font=dict(size=19, family=FONT, color="black")),
        dict(text=f"Log<sub>10</sub>({p['var']})", x=px_x(x0 - 97), y=px_y(cy),
             xref="paper", yref="paper", showarrow=False, textangle=-90,
             xanchor="center", yanchor="middle",
             font=dict(size=20, family=FONT, color="black")),
        dict(text=p["letter"], x=px_x(x0 - 103), y=px_y(y0 - 14), xref="paper",
             yref="paper", showarrow=False, xanchor="center", yanchor="middle",
             font=dict(size=21, family=FONT, color="black")),
    ]

fig.update_layout(**layout)
fig.write_html("out.html", config={"displayModeBar": False},
               post_script="document.body.style.margin='0px';"
                           "document.body.style.overflow='hidden';")
